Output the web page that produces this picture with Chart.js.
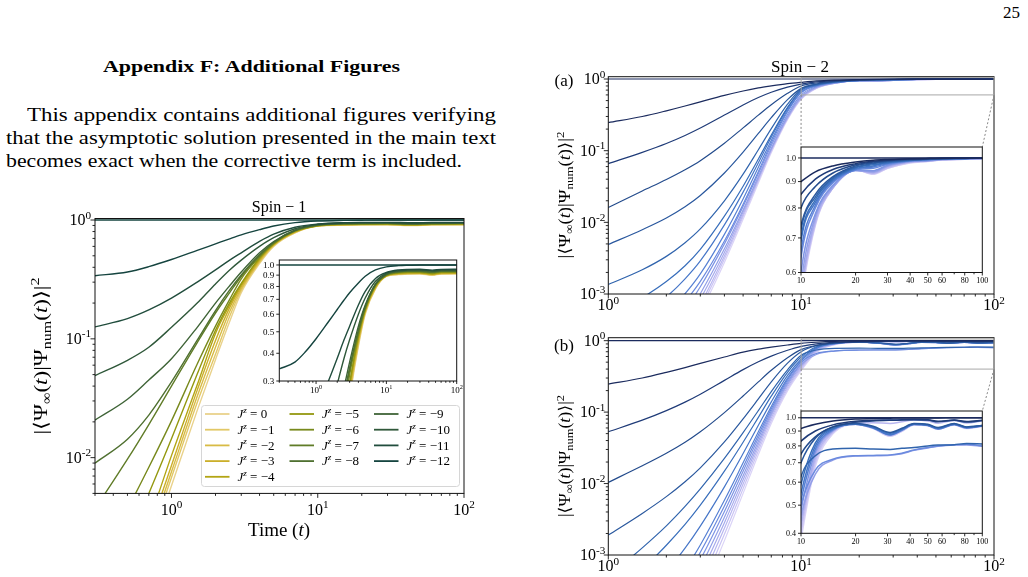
<!DOCTYPE html>
<html lang="en">
<head>
<meta charset="UTF-8">
<title>Appendix F: Additional Figures</title>
<script src="https://cdn.jsdelivr.net/npm/chart.js"></script>
<style>
  body { margin: 0; background: #fff; width: 1028px; height: 577px; overflow: hidden; position: relative;
         font-family: "Liberation Serif", "DejaVu Serif", serif; color: #000; }
  canvas { position: absolute; left: 0; top: 0; width: 1028px; height: 577px; }
  .txt { position: absolute; white-space: nowrap; transform-origin: 0 0; font-size: 19px; line-height: 1; }
</style>
</head>
<body>
<div class="txt" style="left:1003px;top:4px;font-size:17px">25</div>
<div class="txt fit" data-w="297" style="left:103px;top:58px;font-size:17px;font-weight:bold">Appendix F: Additional Figures</div>
<div class="txt fit" data-w="469" style="left:27px;top:105px">This appendix contains additional figures verifying</div>
<div class="txt fit" data-w="490" style="left:6px;top:128px">that the asymptotic solution presented in the main text</div>
<div class="txt fit" data-w="456" style="left:6px;top:151px">becomes exact when the corrective term is included.</div>

<canvas id="c1" width="1028" height="577"></canvas>
<canvas id="c1i" width="1028" height="577"></canvas>
<canvas id="c2a" width="1028" height="577"></canvas>
<canvas id="c2ai" width="1028" height="577"></canvas>
<canvas id="c2b" width="1028" height="577"></canvas>
<canvas id="c2bi" width="1028" height="577"></canvas>

<script>
  // ---------- Spin-1 data ----------
  const t1 = [0.3, 0.5, 0.7, 1, 1.5, 2, 2.5, 3, 4, 5, 7, 10, 15, 20, 30, 45, 60, 100];
  const jz = [0, -1, -2, -3, -4, -5, -6, -7, -8, -9, -10, -11, -12];
  const j0  = [0.00011, 0.00051, 0.0016, 0.0058, 0.025, 0.0668, 0.14, 0.245, 0.43, 0.60, 0.78, 0.888, 0.905, 0.91, 0.911, 0.899, 0.91, 0.911];
  const j1  = [0.00013, 0.0006, 0.00187, 0.0068, 0.0291, 0.0741, 0.155, 0.255, 0.44, 0.61, 0.785, 0.89, 0.908, 0.913, 0.914, 0.902, 0.913, 0.914];
  const j2  = [0.000145, 0.00067, 0.0021, 0.0076, 0.0328, 0.085, 0.17, 0.265, 0.45, 0.615, 0.79, 0.892, 0.911, 0.916, 0.917, 0.905, 0.916, 0.917];
  const j3  = [0.00016, 0.00076, 0.0024, 0.0086, 0.037, 0.097, 0.183, 0.275, 0.46, 0.62, 0.795, 0.894, 0.914, 0.919, 0.92, 0.908, 0.919, 0.92];
  const j4  = [0.0002, 0.00091, 0.00286, 0.0104, 0.041, 0.111, 0.193, 0.285, 0.47, 0.625, 0.80, 0.896, 0.917, 0.922, 0.923, 0.911, 0.922, 0.923];
  const j5  = [0.00054, 0.00195, 0.005, 0.0144, 0.0505, 0.118, 0.202, 0.293, 0.48, 0.63, 0.805, 0.898, 0.922, 0.927, 0.928, 0.916, 0.927, 0.928];
  const j6  = [0.0012, 0.0037, 0.0083, 0.0204, 0.0614, 0.128, 0.215, 0.32, 0.49, 0.635, 0.81, 0.90, 0.926, 0.931, 0.932, 0.921, 0.931, 0.932];
  const j7  = [0.0037, 0.0097, 0.019, 0.040, 0.093, 0.165, 0.245, 0.335, 0.50, 0.645, 0.815, 0.905, 0.93, 0.936, 0.937, 0.926, 0.936, 0.937];
  const j8  = [0.009, 0.0143, 0.0228, 0.0434, 0.0975, 0.173, 0.258, 0.345, 0.51, 0.65, 0.82, 0.908, 0.934, 0.94, 0.94, 0.930, 0.94, 0.94];
  const j9  = [0.0207, 0.031, 0.045, 0.068, 0.125, 0.20, 0.28, 0.365, 0.53, 0.66, 0.82, 0.91, 0.938, 0.944, 0.945, 0.936, 0.944, 0.945];
  const j10 = [0.049, 0.066, 0.085, 0.125, 0.20, 0.29, 0.38, 0.46, 0.60, 0.71, 0.845, 0.92, 0.943, 0.948, 0.95, 0.941, 0.948, 0.95];
  const j11 = [0.126, 0.148, 0.175, 0.22, 0.30, 0.38, 0.46, 0.53, 0.66, 0.76, 0.87, 0.925, 0.95, 0.955, 0.956, 0.948, 0.955, 0.956];
  const j12 = [0.34, 0.365, 0.405, 0.465, 0.555, 0.63, 0.695, 0.75, 0.83, 0.89, 0.95, 0.98, 0.993, 0.997, 1.0, 1.0, 1.0, 1.0];
  const spin1Colors = ['#e9d28c', '#e2c866', '#d8bb45', '#cbaf2a', '#b3a514', '#949810', '#78891c', '#607c28', '#4f7030',
                       '#3f6437', '#2f583a', '#214d3d', '#15443f'];

  // ---------- Spin-2 (a) data ----------
  const t2a = [1, 1.5, 2, 2.5, 3, 4, 5, 6, 7, 8.5, 10, 12, 15, 20, 25, 30, 40, 50, 60, 80, 100];
  const a1  = [0.246, 0.30, 0.36, 0.42, 0.48, 0.59, 0.68, 0.75, 0.80, 0.86, 0.90, 0.94, 0.965, 0.982, 0.99, 0.993, 0.996, 0.998, 0.999, 0.999, 1.0];
  const a2  = [0.066, 0.0948, 0.126, 0.163, 0.207, 0.314, 0.435, 0.551, 0.653, 0.771, 0.85, 0.91, 0.95, 0.975, 0.985, 0.99, 0.995, 0.997, 0.998, 0.999, 1.0];
  const a3  = [0.0161, 0.0274, 0.0397, 0.0543, 0.0726, 0.127, 0.208, 0.313, 0.437, 0.631, 0.80, 0.88, 0.935, 0.97, 0.982, 0.988, 0.994, 0.996, 0.998, 0.999, 1.0];
  const a4  = [0.0049, 0.0079, 0.0115, 0.0165, 0.0237, 0.0488, 0.0953, 0.174, 0.289, 0.516, 0.74, 0.85, 0.92, 0.965, 0.978, 0.985, 0.992, 0.995, 0.997, 0.999, 1.0];
  const a5  = [0.00136, 0.00218, 0.00335, 0.0052, 0.0081, 0.020, 0.047, 0.103, 0.203, 0.445, 0.725, 0.84, 0.915, 0.96, 0.975, 0.983, 0.991, 0.995, 0.997, 0.998, 1.0];
  const a6  = [0.0005, 0.00089, 0.00149, 0.00248, 0.0042, 0.0122, 0.0319, 0.0764, 0.165, 0.402, 0.70, 0.83, 0.91, 0.957, 0.97, 0.98, 0.99, 0.994, 0.997, 0.998, 1.0];
  const a7  = [0.00027, 0.00051, 0.00091, 0.00163, 0.0029, 0.0092, 0.0264, 0.0679, 0.154, 0.389, 0.69, 0.82, 0.905, 0.953, 0.965, 0.978, 0.989, 0.993, 0.996, 0.998, 1.0];
  const a8  = [0.000132, 0.000274, 0.00053, 0.00101, 0.00191, 0.0068, 0.0212, 0.0587, 0.139, 0.366, 0.66, 0.81, 0.90, 0.95, 0.96, 0.975, 0.988, 0.992, 0.996, 0.998, 0.999];
  const a9  = [0.0000927, 0.0002, 0.000399, 0.00078, 0.0015, 0.00548, 0.0179, 0.0514, 0.128, 0.349, 0.64, 0.80, 0.895, 0.948, 0.955, 0.972, 0.987, 0.991, 0.995, 0.997, 0.999];
  const a10 = [0.0000521, 0.000127, 0.000284, 0.000608, 0.00126, 0.00501, 0.0167, 0.048, 0.118, 0.322, 0.60, 0.78, 0.885, 0.946, 0.945, 0.968, 0.985, 0.989, 0.994, 0.996, 0.998];
  const a11 = [0.000033, 0.0000873, 0.000207, 0.000462, 0.00101, 0.00427, 0.0149, 0.0436, 0.108, 0.301, 0.57, 0.77, 0.88, 0.946, 0.94, 0.965, 0.984, 0.988, 0.993, 0.996, 0.998];
  const a12 = [0.0000238, 0.0000656, 0.00016, 0.000375, 0.00085, 0.00379, 0.0139, 0.0413, 0.104, 0.29, 0.55, 0.76, 0.875, 0.947, 0.937, 0.962, 0.983, 0.987, 0.993, 0.995, 0.997];
  const a13 = [0.000018, 0.0000516, 0.00013, 0.00031, 0.000714, 0.00338, 0.0129, 0.0399, 0.102, 0.285, 0.54, 0.75, 0.875, 0.948, 0.934, 0.958, 0.982, 0.986, 0.992, 0.995, 0.997];
  const a14 = [0.0000143, 0.0000426, 0.00011, 0.000269, 0.00063, 0.00308, 0.012, 0.0378, 0.0984, 0.28, 0.53, 0.745, 0.875, 0.949, 0.932, 0.955, 0.98, 0.985, 0.992, 0.994, 0.996];
  const a15 = [0.0000111, 0.0000346, 0.000092, 0.00023, 0.00055, 0.00276, 0.011, 0.0353, 0.0933, 0.27, 0.52, 0.74, 0.875, 0.949, 0.93, 0.955, 0.978, 0.984, 0.991, 0.994, 0.996];

  // ---------- Spin-2 (b) data ----------
  const t2b = [1, 1.5, 2, 2.5, 3, 4, 5, 6, 7, 8.5, 10, 12, 15, 20, 25, 31, 36, 42, 50, 57, 70, 82, 100];
  const b1  = [0.247, 0.30, 0.36, 0.42, 0.48, 0.59, 0.69, 0.76, 0.81, 0.87, 0.918, 0.95, 0.975, 0.99, 0.995, 0.997, 0.998, 0.998, 0.999, 0.999, 1.0, 1.0, 1.0];
  const b2  = [0.0531, 0.0771, 0.105, 0.138, 0.178, 0.278, 0.393, 0.506, 0.607, 0.733, 0.831, 0.90, 0.945, 0.972, 0.98, 0.982, 0.984, 0.986, 0.984, 0.972, 0.982, 0.97, 0.98];
  const b3  = [0.0104, 0.0177, 0.0265, 0.0378, 0.053, 0.0984, 0.168, 0.265, 0.385, 0.577, 0.75, 0.86, 0.93, 0.965, 0.975, 0.98, 0.982, 0.985, 0.982, 0.968, 0.98, 0.966, 0.978];
  const b4  = [0.0019, 0.00382, 0.00656, 0.0106, 0.0166, 0.0383, 0.0805, 0.153, 0.265, 0.484, 0.70, 0.85, 0.93, 0.956, 0.935, 0.89, 0.92, 0.955, 0.95, 0.925, 0.955, 0.93, 0.94];
  const b5  = [0.0005, 0.00126, 0.00256, 0.00479, 0.00841, 0.0225, 0.0516, 0.105, 0.194, 0.39, 0.626, 0.74, 0.78, 0.785, 0.78, 0.778, 0.785, 0.79, 0.80, 0.805, 0.808, 0.815, 0.812];
  const b6  = [0.000239, 0.00063, 0.00137, 0.00268, 0.00498, 0.0149, 0.0379, 0.0845, 0.167, 0.361, 0.59, 0.82, 0.92, 0.952, 0.93, 0.885, 0.915, 0.952, 0.945, 0.922, 0.952, 0.928, 0.94];
  const b7  = [0.0000857, 0.000246, 0.000583, 0.00125, 0.00254, 0.009, 0.0263, 0.0653, 0.139, 0.326, 0.55, 0.80, 0.915, 0.95, 0.925, 0.875, 0.91, 0.95, 0.942, 0.918, 0.95, 0.925, 0.938];
  const b8  = [0.00003, 0.0000977, 0.00026, 0.000621, 0.00138, 0.00583, 0.0195, 0.0531, 0.12, 0.299, 0.52, 0.78, 0.91, 0.95, 0.922, 0.872, 0.905, 0.948, 0.94, 0.915, 0.948, 0.922, 0.936];
  const b9  = [0.0000208, 0.0000703, 0.000193, 0.000471, 0.00109, 0.00485, 0.0169, 0.0478, 0.111, 0.282, 0.50, 0.66, 0.72, 0.74, 0.742, 0.745, 0.755, 0.775, 0.79, 0.80, 0.808, 0.81, 0.80];
  const b10 = [0.0000142, 0.0000499, 0.000141, 0.000359, 0.000859, 0.00406, 0.0149, 0.0435, 0.103, 0.266, 0.48, 0.76, 0.905, 0.955, 0.928, 0.878, 0.91, 0.952, 0.945, 0.92, 0.95, 0.926, 0.94];
  const b11 = [0.0000093, 0.0000339, 0.000101, 0.00027, 0.000671, 0.00337, 0.0129, 0.039, 0.0955, 0.251, 0.46, 0.64, 0.715, 0.738, 0.74, 0.743, 0.752, 0.772, 0.787, 0.797, 0.805, 0.806, 0.797];
  const b12 = [0.0000066, 0.0000251, 0.0000769, 0.00021, 0.000532, 0.00283, 0.0113, 0.0355, 0.0895, 0.24, 0.44, 0.74, 0.90, 0.953, 0.925, 0.87, 0.905, 0.95, 0.943, 0.917, 0.948, 0.922, 0.937];
  const b13 = [0.0000046, 0.0000181, 0.0000572, 0.00016, 0.000419, 0.00236, 0.00985, 0.0321, 0.0824, 0.225, 0.42, 0.72, 0.895, 0.958, 0.962, 0.955, 0.968, 0.982, 0.975, 0.958, 0.978, 0.96, 0.975];
  const b14 = [0.0000031, 0.0000126, 0.0000411, 0.00012, 0.000327, 0.00195, 0.00849, 0.0287, 0.0759, 0.211, 0.40, 0.70, 0.89, 0.95, 0.92, 0.866, 0.90, 0.946, 0.94, 0.914, 0.946, 0.92, 0.935];
  const b15 = [0.000002, 0.0000087, 0.0000293, 0.0000895, 0.000252, 0.00159, 0.00728, 0.0255, 0.0695, 0.198, 0.38, 0.68, 0.88, 0.948, 0.918, 0.863, 0.898, 0.945, 0.938, 0.912, 0.945, 0.918, 0.933];
  const spin2Colors = ['#1b2b5e', '#1f3b78', '#234b8c', '#2a589e', '#3064ad', '#386ebb', '#4676c8', '#5680d4', '#6a8ade',
                       '#7e94e4', '#929fe8', '#a6aaec', '#b8b6f0', '#cac4f3', '#dad3f7'];

  // reference line at |<..>|^2 = 1
  const flatVal = [1, 1];

  // tick labels
  const logMainX = [1, 10, 100];
  const logMainXLabels = ['10^{0}', '10^{1}', '10^{2}'];
  const s1Y = [0.01, 0.1, 1];
  const s1YLabels = ['10^{-2}', '10^{-1}', '10^{0}'];
  const s2Y = [0.001, 0.01, 0.1, 1];
  const s2YLabels = ['10^{-3}', '10^{-2}', '10^{-1}', '10^{0}'];
  const s1InsetY = [0.3, 0.4, 0.5, 0.6, 0.7, 0.8, 0.9, 1.0];
  const s2InsetX = [10, 20, 30, 40, 50, 60, 80, 100];
  const s2aInsetY = [0.6, 0.7, 0.8, 0.9, 1.0];
  const s2bInsetY = [0.4, 0.5, 0.6, 0.7, 0.8, 0.9, 1.0];

  // ---------- helpers ----------
  const SERIF = '"Liberation Serif", "DejaVu Serif", "DejaVu Sans", serif';

  function parseRich(str) {
    const parts = [];
    str.split(/(\^\{[^}]*\}|_\{[^}]*\})/).forEach(piece => {
      if (!piece) return;
      let mode = '', body = piece;
      if (piece.startsWith('^{')) { mode = 'sup'; body = piece.slice(2, -1); }
      else if (piece.startsWith('_{')) { mode = 'sub'; body = piece.slice(2, -1); }
      body.split('*').forEach((s, i) => { if (s) parts.push({ s, mode, it: i % 2 === 1 }); });
    });
    return parts;
  }

  // y is the vertical middle of the digits
  function drawRich(ctx, str, x, y, size, align, stretch) {
    const parts = parseRich(str);
    const fontOf = p => (p.it ? 'italic ' : '') + (p.mode ? size * 0.7 : size) + 'px ' + SERIF;
    let total = 0;
    parts.forEach(p => { ctx.font = fontOf(p); p.w = ctx.measureText(p.s).width; total += p.w; });
    ctx.save();
    ctx.translate(x, y);
    if (stretch) ctx.scale(stretch / total, 1);
    let cx = align === 'center' ? -total / 2 : align === 'right' ? -total : 0;
    ctx.fillStyle = '#000';
    ctx.textAlign = 'left';
    ctx.textBaseline = 'alphabetic';
    parts.forEach(p => {
      ctx.font = fontOf(p);
      const dy = p.mode === 'sup' ? -size * 0.42 : p.mode === 'sub' ? size * 0.2 : 0;
      ctx.fillText(p.s, cx, size * 0.33 + dy);
      cx += p.w;
    });
    ctx.restore();
  }

  function logMinors(lo, hi) {
    const out = [];
    for (let e = Math.floor(Math.log10(lo)); e <= Math.ceil(Math.log10(hi)); e++) {
      for (let m = 2; m <= 9; m++) {
        const v = m * Math.pow(10, e);
        if (v >= lo * 0.999 && v <= hi * 1.001) out.push(v);
      }
    }
    return out;
  }

  const deco = {};

  const decoPlugin = {
    id: 'deco',
    beforeDatasetsDraw(chart) {
      const d = deco[chart.canvas.id];
      if (d && d.fill) {
        const a = chart.chartArea;
        chart.ctx.fillStyle = '#fff';
        chart.ctx.fillRect(a.left, a.top, a.right - a.left, a.bottom - a.top);
      }
    },
    afterDraw(chart) {
      const d = deco[chart.canvas.id];
      if (!d) return;
      const ctx = chart.ctx, a = chart.chartArea, xs = chart.scales.x, ys = chart.scales.y;
      ctx.save();
      ctx.strokeStyle = '#111';
      ctx.lineWidth = 0.9;
      const seg = (x1, y1, x2, y2) => { ctx.beginPath(); ctx.moveTo(x1, y1); ctx.lineTo(x2, y2); ctx.stroke(); };
      d.xMajor.forEach(v => { const p = xs.getPixelForValue(v); seg(p, a.bottom, p, a.bottom + d.maj); });
      d.xMinor.forEach(v => { const p = xs.getPixelForValue(v); seg(p, a.bottom, p, a.bottom + d.min); });
      d.yMajor.forEach(v => { const p = ys.getPixelForValue(v); seg(a.left, p, a.left - d.maj, p); });
      d.yMinor.forEach(v => { const p = ys.getPixelForValue(v); seg(a.left, p, a.left - d.min, p); });
      ctx.lineWidth = 1;
      ctx.strokeRect(a.left, a.top, a.right - a.left, a.bottom - a.top);
      d.xMajor.forEach((v, i) => drawRich(ctx, d.xLabels[i], xs.getPixelForValue(v), a.bottom + d.xOff, d.font, 'center'));
      d.yMajor.forEach((v, i) => drawRich(ctx, d.yLabels[i], a.left - d.yOff, ys.getPixelForValue(v), d.font, 'right'));
      if (d.extra) d.extra(ctx, chart);
      ctx.restore();
    }
  };

  function lineSet(t, v, color, w) {
    return {
      data: t.map((x, i) => ({ x, y: v[i] })),
      borderColor: color, borderWidth: w, pointRadius: 0, fill: false,
      cubicInterpolationMode: 'monotone'
    };
  }

  function buildChart(id, box, xr, yr, datasets) {
    return new Chart(document.getElementById(id), {
      type: 'line',
      data: { datasets },
      options: {
        responsive: false, animation: false, devicePixelRatio: 1, events: [],
        layout: { padding: { left: box.l, top: box.t, right: 1028 - box.r, bottom: 577 - box.b } },
        scales: {
          x: { type: 'logarithmic', min: xr[0], max: xr[1], display: false },
          y: { type: 'logarithmic', min: yr[0], max: yr[1], display: false }
        },
        plugins: { legend: { display: false }, tooltip: { enabled: false } }
      },
      plugins: [decoPlugin]
    });
  }

  function yTitle(ctx, x, y, len, size) {
    ctx.save();
    ctx.translate(x, y);
    ctx.rotate(-Math.PI / 2);
    drawRich(ctx, '|⟨Ψ_{∞}(*t*)|Ψ_{num}(*t*)⟩|^{2}', 0, 0, size, 'center', len);
    ctx.restore();
  }

  function zoomMark(ctx, chart, xr, yr, inset) {
    const xs = chart.scales.x, ys = chart.scales.y;
    const x1 = xs.getPixelForValue(xr[0]), x2 = xs.getPixelForValue(xr[1]);
    const y1 = ys.getPixelForValue(yr[1]), y2 = ys.getPixelForValue(yr[0]);
    ctx.strokeStyle = '#a8a8a8';
    ctx.lineWidth = 1;
    ctx.strokeRect(x1, y1, x2 - x1, y2 - y1);
    ctx.setLineDash([2, 2]);
    ctx.strokeStyle = '#888';
    ctx.beginPath(); ctx.moveTo(x1, y2); ctx.lineTo(inset.l, inset.t); ctx.stroke();
    ctx.beginPath(); ctx.moveTo(x2, y2); ctx.lineTo(inset.r, inset.t); ctx.stroke();
    ctx.setLineDash([]);
  }

  // ---------- plot areas on the page ----------
  const box1 = { l: 95, t: 218.5, r: 464, b: 493.4 };
  const box1i = { l: 279.3, t: 260, r: 456.7, b: 381 };
  const box2a = { l: 608.3, t: 76.7, r: 994, b: 294 };
  const box2ai = { l: 801, t: 147, r: 982.3, b: 272.5 };
  const box2b = { l: 608.3, t: 337.7, r: 994, b: 555 };
  const box2bi = { l: 801, t: 411, r: 982.3, b: 533.3 };

  const spin1Series = [j0, j1, j2, j3, j4, j5, j6, j7, j8, j9, j10, j11, j12];
  const spin2aSeries = [a1, a2, a3, a4, a5, a6, a7, a8, a9, a10, a11, a12, a13, a14, a15];
  const spin2bSeries = [b1, b2, b3, b4, b5, b6, b7, b8, b9, b10, b11, b12, b13, b14, b15];

  // darkest drawn on top (Chart.js draws dataset 0 last)
  function spin1Sets(w) {
    const sets = [lineSet([t1[0], t1[t1.length - 1]], flatVal, '#15443f', w)];
    for (let i = spin1Series.length - 1; i >= 0; i--) sets.push(lineSet(t1, spin1Series[i], spin1Colors[i], w));
    return sets;
  }
  function spin2Sets(t, series, w) {
    const sets = [lineSet([t[0], t[t.length - 1]], flatVal, '#1b2b5e', w)];
    series.forEach((s, i) => sets.push(lineSet(t, s, spin2Colors[i], w)));
    return sets;
  }

  // legend in three columns of 5, 4 and 4 entries
  function drawLegend(ctx) {
    ctx.save();
    ctx.beginPath();
    ctx.roundRect(201.5, 405.5, 258, 81, 3);
    ctx.fillStyle = 'rgba(255,255,255,0.85)';
    ctx.fill();
    ctx.strokeStyle = '#d6d6d6';
    ctx.lineWidth = 1;
    ctx.stroke();
    const colStart = [0, 5, 9];
    jz.forEach((j, i) => {
      const col = i < 5 ? 0 : i < 9 ? 1 : 2;
      const row = i - colStart[col];
      const lx = 205 + col * 84.5, ly = 414 + row * 15.7;
      ctx.strokeStyle = spin1Colors[i];
      ctx.lineWidth = 1.8;
      ctx.beginPath(); ctx.moveTo(lx, ly); ctx.lineTo(lx + 24.5, ly); ctx.stroke();
      drawRich(ctx, '*J*^{*z*} = ' + (j === 0 ? '0' : '−' + (-j)), lx + 32.5, ly, 13, 'left');
    });
    ctx.restore();
  }

  // ---------- Spin-1 ----------
  deco.c1 = {
    xMajor: logMainX, xLabels: logMainXLabels, xMinor: logMinors(0.3, 100),
    yMajor: s1Y, yLabels: s1YLabels, yMinor: logMinors(0.005, 1),
    maj: 4.5, min: 2.5, font: 16, xOff: 16, yOff: 4,
    extra(ctx) {
      drawRich(ctx, 'Spin − 1', 279, 207, 16, 'center');
      drawRich(ctx, 'Time (*t*)', 279, 530, 19, 'center');
      yTitle(ctx, 41, 356, 157, 19);
      drawLegend(ctx);
    }
  };
  buildChart('c1', box1, [0.3, 100], [0.005, 1.03], spin1Sets(1.4));

  deco.c1i = {
    fill: true,
    xMajor: logMainX, xLabels: logMainXLabels, xMinor: logMinors(0.3, 100),
    yMajor: s1InsetY, yLabels: s1InsetY.map(v => v.toFixed(1)), yMinor: [],
    maj: 3, min: 1.8, font: 9, xOff: 9, yOff: 5
  };
  buildChart('c1i', box1i, [0.3, 100], [0.3, 1.053], spin1Sets(1.4));

  // ---------- Spin-2 (a) ----------
  deco.c2a = {
    xMajor: logMainX, xLabels: logMainXLabels, xMinor: logMinors(1, 100),
    yMajor: s2Y, yLabels: s2YLabels, yMinor: logMinors(0.001, 1),
    maj: 4.5, min: 2.5, font: 16, xOff: 11, yOff: 3,
    extra(ctx, chart) {
      drawRich(ctx, 'Spin − 2', 800, 66, 17, 'center');
      drawRich(ctx, '(a)', 564, 80, 17, 'center');
      yTitle(ctx, 565, 195, 127, 16);
      zoomMark(ctx, chart, [10, 100], [0.6, 1.05], box2ai);
    }
  };
  buildChart('c2a', box2a, [1, 100], [0.001, 1.077], spin2Sets(t2a, spin2aSeries, 1.2));

  deco.c2ai = {
    fill: true,
    xMajor: s2InsetX, xLabels: s2InsetX.map(String), xMinor: [70, 90],
    yMajor: s2aInsetY, yLabels: s2aInsetY.map(v => v.toFixed(1)), yMinor: [],
    maj: 3, min: 1.8, font: 8, xOff: 8, yOff: 5
  };
  buildChart('c2ai', box2ai, [10, 100], [0.6, 1.05], spin2Sets(t2a, spin2aSeries, 1.5));

  // ---------- Spin-2 (b) ----------
  deco.c2b = {
    xMajor: logMainX, xLabels: logMainXLabels, xMinor: logMinors(1, 100),
    yMajor: s2Y, yLabels: s2YLabels, yMinor: logMinors(0.001, 1),
    maj: 4.5, min: 2.5, font: 16, xOff: 11, yOff: 3,
    extra(ctx, chart) {
      drawRich(ctx, '(b)', 564, 345, 17, 'center');
      yTitle(ctx, 565, 456, 122, 16);
      zoomMark(ctx, chart, [10, 100], [0.4, 1.055], box2bi);
    }
  };
  buildChart('c2b', box2b, [1, 100], [0.001, 1.1], spin2Sets(t2b, spin2bSeries, 1.2));

  deco.c2bi = {
    fill: true,
    xMajor: s2InsetX, xLabels: s2InsetX.map(String), xMinor: [70, 90],
    yMajor: s2bInsetY, yLabels: s2bInsetY.map(v => v.toFixed(1)), yMinor: [],
    maj: 3, min: 1.8, font: 8, xOff: 8, yOff: 5
  };
  buildChart('c2bi', box2bi, [10, 100], [0.4, 1.055], spin2Sets(t2b, spin2bSeries, 1.5));

  // stretch the paragraph lines to the widths they have on the page
  document.querySelectorAll('.fit').forEach(el => {
    const w = el.getBoundingClientRect().width;
    el.style.transform = 'scaleX(' + (el.dataset.w / w) + ')';
  });
</script>
</body>
</html>
